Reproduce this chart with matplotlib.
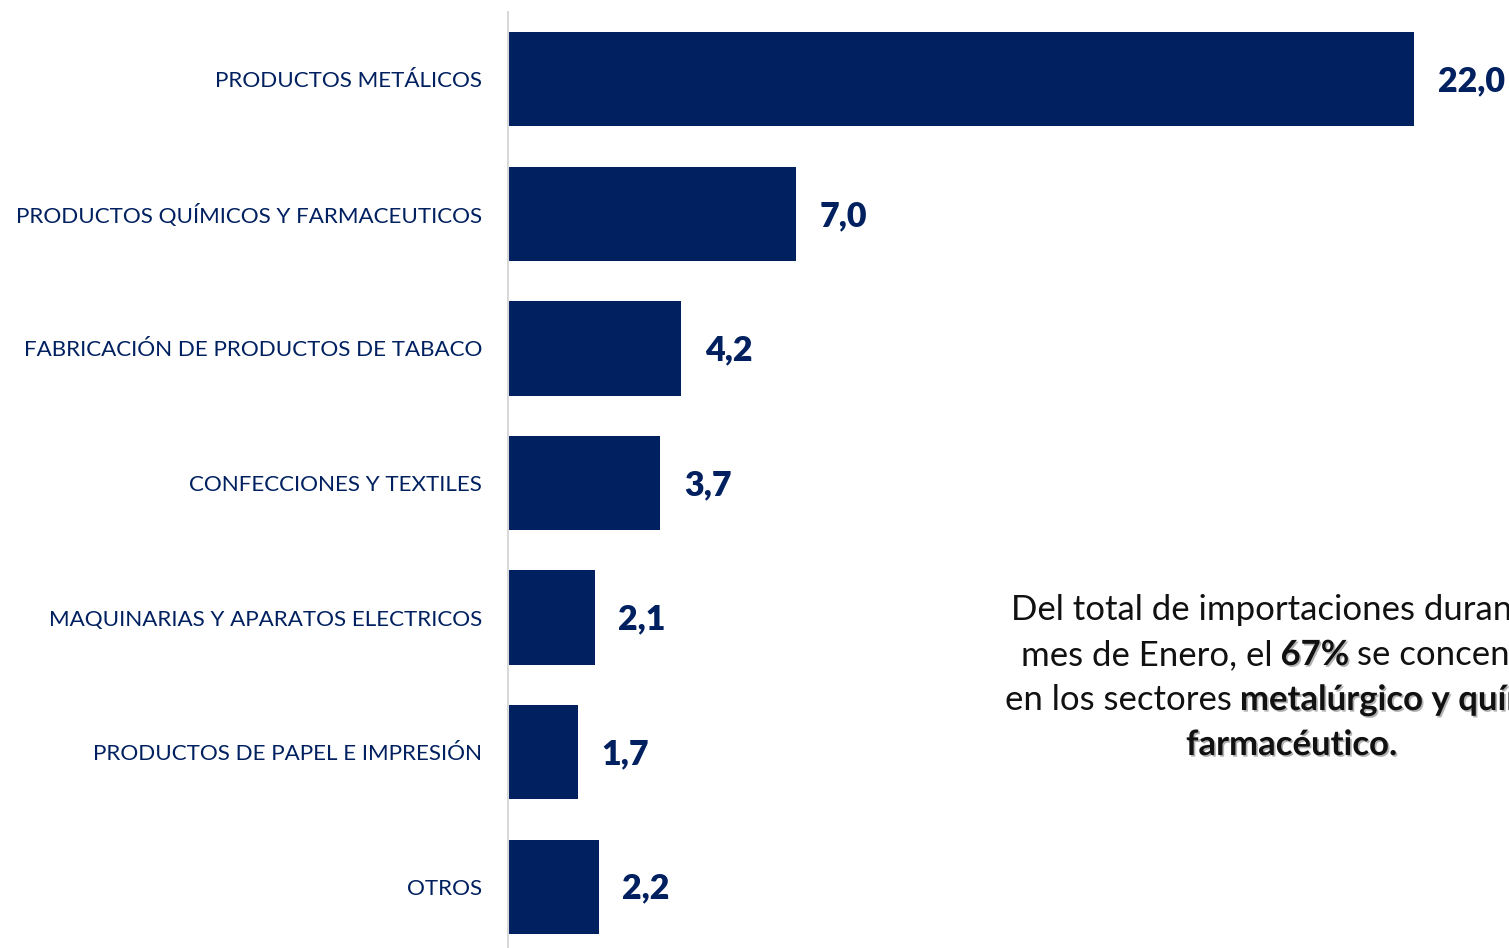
import matplotlib
matplotlib.use("Agg")
import matplotlib.pyplot as plt
import matplotlib.patheffects as pe

categories = [
    "PRODUCTOS METÁLICOS",
    "PRODUCTOS QUÍMICOS Y FARMACEUTICOS",
    "FABRICACIÓN DE PRODUCTOS DE TABACO",
    "CONFECCIONES Y TEXTILES",
    "MAQUINARIAS Y APARATOS ELECTRICOS",
    "PRODUCTOS DE PAPEL E IMPRESIÓN",
    "OTROS",
]
values = [22.0, 7.0, 4.2, 3.7, 2.1, 1.7, 2.2]

note_lines = [
    [("Del total de importaciones durante el", False)],
    [("mes de Enero, el", False), ("67%", True), ("se concentró", False)],
    [("en los sectores", False), ("metalúrgico y químico-", True)],
    [("farmacéutico.", True)],
]
# left edge (px) and baseline (px from top) of each note line
note_x = [1011, 1021, 1005, 1186]
note_base = [620, 665, 710, 755]

navy = "#002060"
plt.rcParams["font.family"] = ["Lato", "DejaVu Sans"]

W, H = 1509, 948
fig = plt.figure(figsize=(W / 100, H / 100), dpi=100)
ax = fig.add_axes([508 / W, -6 / H, 1 - 508 / W, 942 / H])

ypos = list(range(len(categories)))
ax.barh(ypos, values, height=0.7, color=navy)
ax.set_ylim(len(categories) - 0.5, -0.5)
ax.set_xlim(0, 24.3)

ax.set_yticks(ypos, labels=categories)
ax.tick_params(axis="y", length=0, pad=18.5, labelsize=16.15, labelcolor=navy)
ax.set_xticks([])
for s in ["top", "right", "bottom"]:
    ax.spines[s].set_visible(False)
ax.spines["left"].set_color("#d9d9d9")
ax.spines["left"].set_linewidth(1.5)

for y, v in zip(ypos, values):
    ax.annotate(f"{v:.1f}".replace(".", ","), xy=(v, y), xytext=(17, -1.5),
                textcoords="offset points", va="center", ha="left",
                fontsize=24.5, fontweight="heavy", color=navy)

# note text with mixed regular / bold pieces
renderer = fig.canvas.get_renderer()
note_size = 25
space = 0.23 * note_size * 100 / 72
shadow = [pe.SimplePatchShadow(offset=(1.2, -1.2), shadow_rgbFace="#808080", alpha=0.6), pe.Normal()]
for pieces, x0, base in zip(note_lines, note_x, note_base):
    x = x0
    for txt, bold in pieces:
        t = fig.text(x, H - base, txt, transform=None, ha="left", va="baseline",
                     fontsize=note_size, color="#111111",
                     fontweight="bold" if bold else "normal")
        if bold:
            t.set_path_effects(shadow)
        ext = t.get_window_extent(renderer)
        x = ext.x1 + space

fig.savefig("out.png", dpi=100)
